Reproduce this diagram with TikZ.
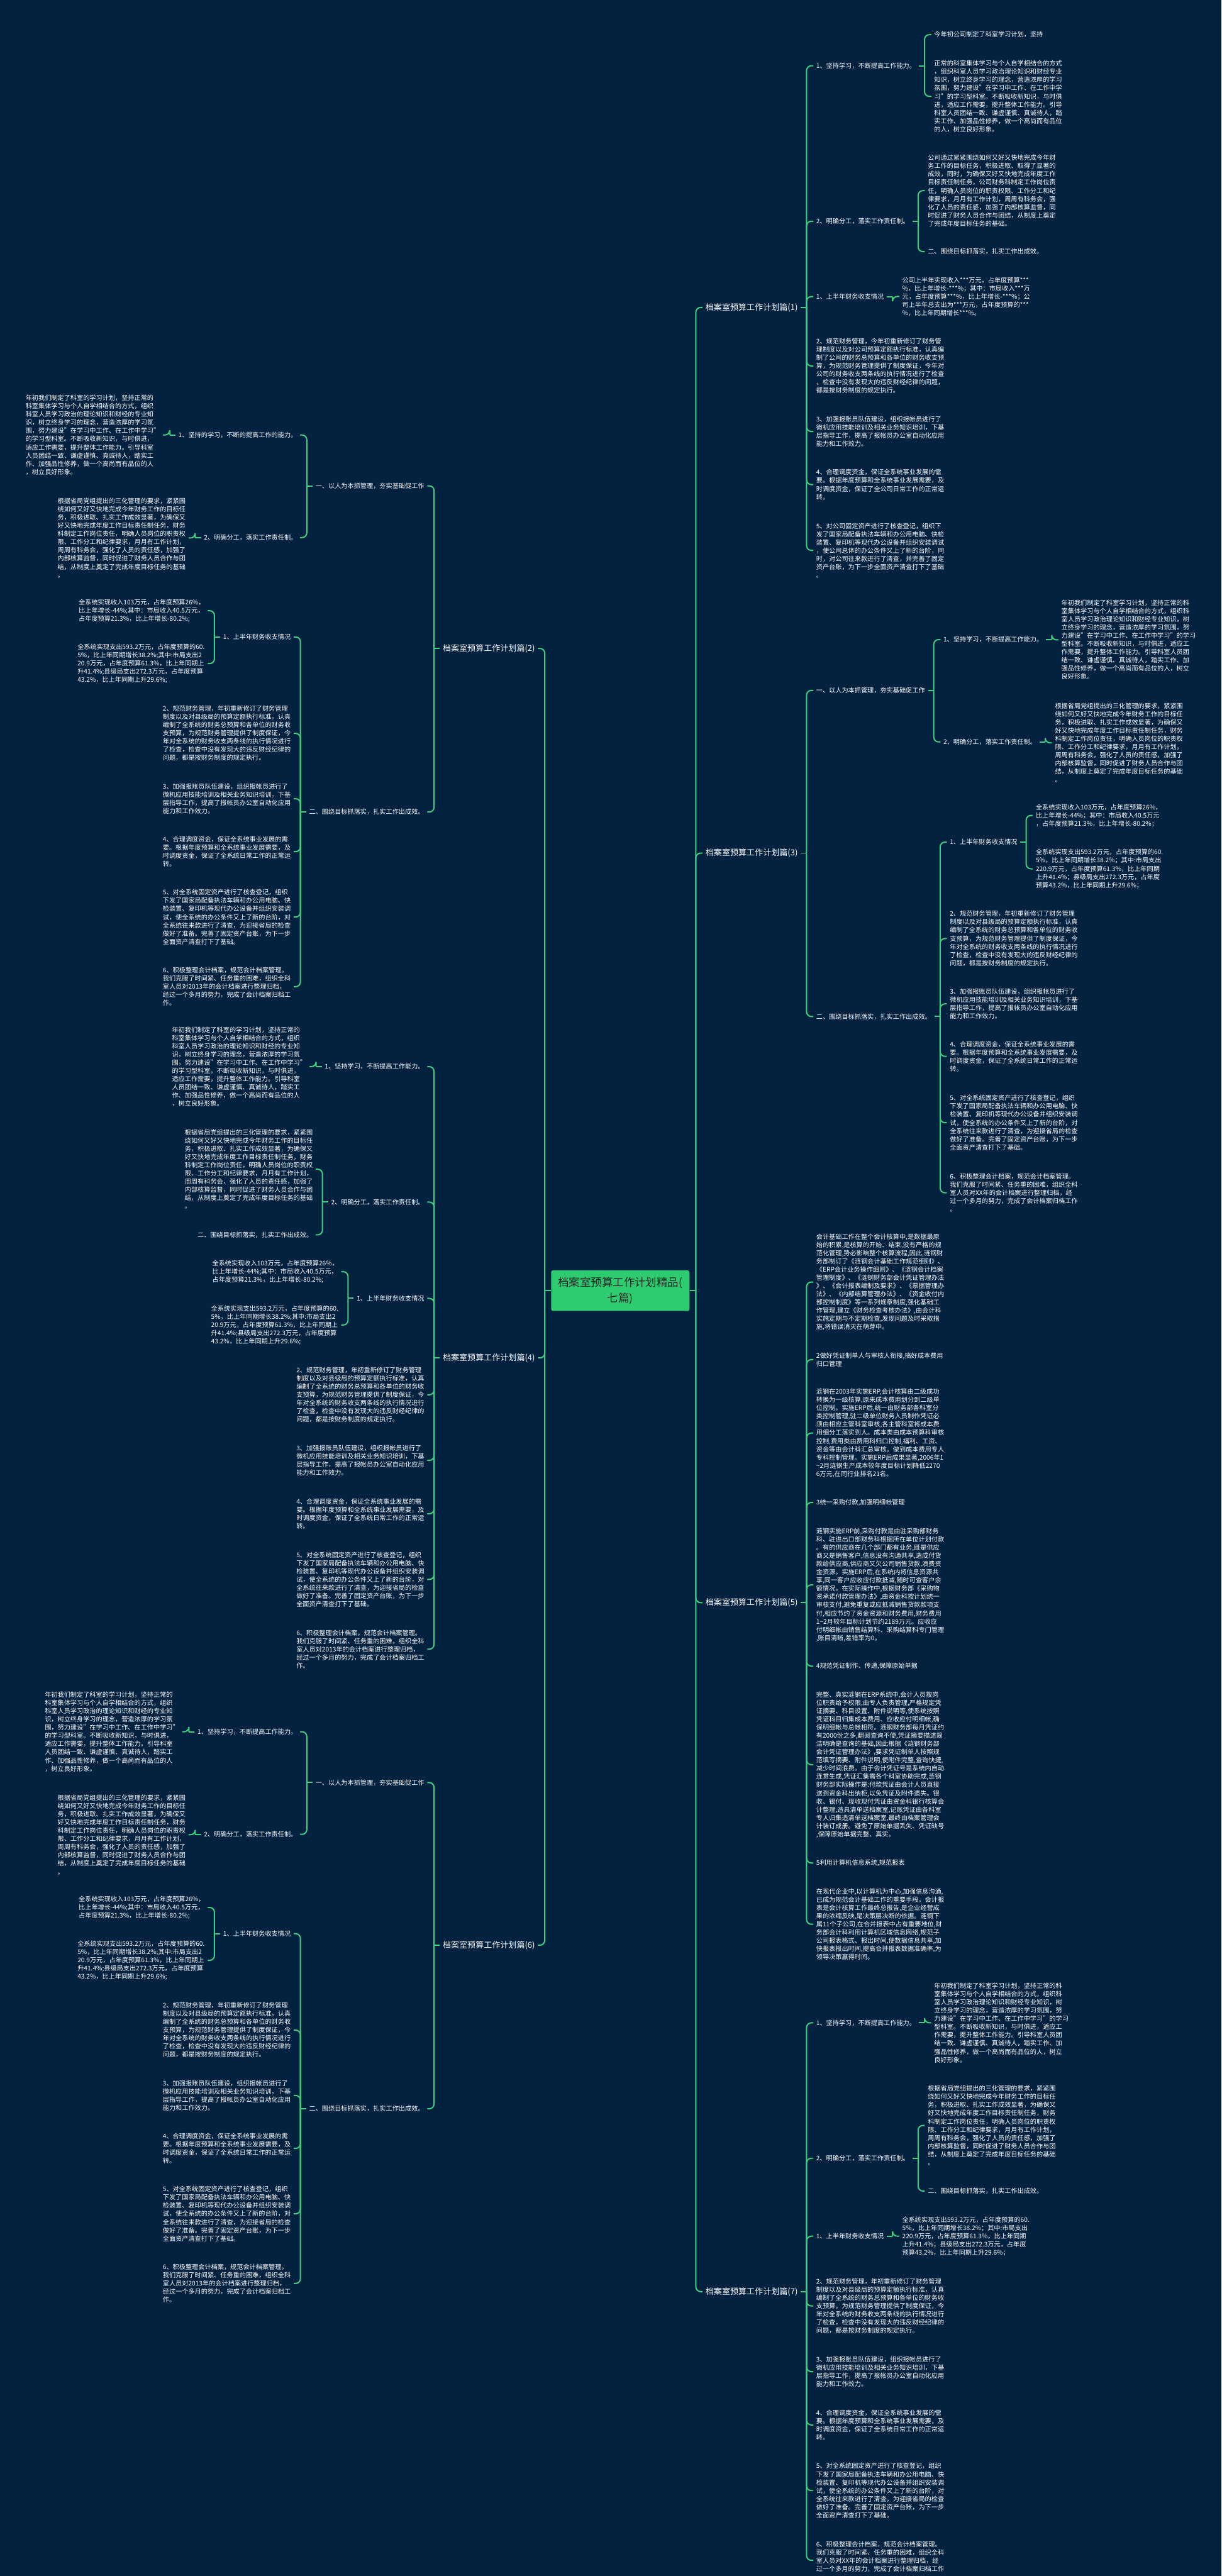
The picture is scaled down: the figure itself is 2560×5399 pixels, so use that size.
\documentclass[tikz,border=0pt]{standalone}
\usepackage{fontspec}
\setmainfont{Noto Sans CJK SC}
\usetikzlibrary{calc}
\definecolor{bg}{HTML}{03223F}
\definecolor{lineg}{HTML}{3FCF7E}
\definecolor{rootg}{HTML}{2ECC71}
\newcommand\leafft{\fontsize{6.7pt}{8.6pt}\selectfont}
\newcommand\labft{\fontsize{8.6pt}{10.5pt}\selectfont}
\newcommand\rootft{\fontsize{11.5pt}{16pt}\selectfont}
\def\gapx{26}\def\stubx{12}
\newcommand\Rn[5][leaf]{%
  \path (#2.east) ++(\gapx,0) coordinate (t-#3);
  \node[#1, anchor=west] (#3) at (t-#3 |- 0,#4) {#5};
  \draw[conn] (#2.east) -- ++(\stubx,0) coordinate (b-#3);
  \draw[conn, rounded corners=5pt] (b-#3) |- (#3.west);
}
\newcommand\Ln[5][leaf]{%
  \path (#2.west) ++(-\gapx,0) coordinate (t-#3);
  \node[#1, anchor=east] (#3) at (t-#3 |- 0,#4) {#5};
  \draw[conn] (#2.west) -- ++(-\stubx,0) coordinate (b-#3);
  \draw[conn, rounded corners=5pt] (b-#3) |- (#3.east);
}
\newcommand\TStudyR{年初我们制定了科室学习计划，坚持正常的科\\室集体学习与个人自学相结合的方式，组织科\\室人员学习政治理论知识和财经专业知识，树\\立终身学习的理念，营造浓厚的学习氛围，努\\力建设"在学习中工作、在工作中学习"的学习\\型科室。不断吸收新知识，与时俱进，适应工\\作需要，提升整体工作能力。引导科室人员团\\结一致、谦虚谨慎、真诚待人，踏实工作、加\\强品性修养，做一个高尚而有品位的人，树立\\良好形象。}
\newcommand\TStudyL{年初我们制定了科室的学习计划，坚持正常的\\科室集体学习与个人自学相结合的方式，组织\\科室人员学习政治的理论知识和财经的专业知\\识，树立终身学习的理念，营造浓厚的学习氛\\围，努力建设"在学习中工作、在工作中学习"\\的学习型科室。不断吸收新知识，与时俱进，\\适应工作需要，提升整体工作能力。引导科室\\人员团结一致、谦虚谨慎、真诚待人，踏实工\\作、加强品性修养，做一个高尚而有品位的人\\，树立良好形象。}
\newcommand\TDuty{根据省局党组提出的三化管理的要求，紧紧围\\绕如何又好又快地完成今年财务工作的目标任\\务，积极进取、扎实工作成效显著，为确保又\\好又快地完成年度工作目标责任制任务，财务\\科制定工作岗位责任，明确人员岗位的职责权\\限、工作分工和纪律要求，月月有工作计划，\\周周有科务会，强化了人员的责任感，加强了\\内部核算监督，同时促进了财务人员合作与团\\结，从制度上奠定了完成年度目标任务的基础\\。}
\newcommand\TIncL{全系统实现收入103万元，占年度预算26\%，\\比上年增长-44\%;其中：市局收入40.5万元，\\占年度预算21.3\%，比上年增长-80.2\%;}
\newcommand\TExpL{全系统实现支出593.2万元，占年度预算的60.\\5\%，比上年同期增长38.2\%;其中:市局支出2\\20.9万元，占年度预算61.3\%，比上年同期上\\升41.4\%;县级局支出272.3万元，占年度预算\\43.2\%，比上年同期上升29.6\%;}
\newcommand\TIncR{全系统实现收入103万元，占年度预算26\%，\\比上年增长-44\%；其中：市局收入40.5万元\\，占年度预算21.3\%，比上年增长-80.2\%；}
\newcommand\TExpR{全系统实现支出593.2万元，占年度预算的60.\\5\%，比上年同期增长38.2\%；其中:市局支出\\220.9万元，占年度预算61.3\%，比上年同期\\上升41.4\%；县级局支出272.3万元，占年度\\预算43.2\%，比上年同期上升29.6\%；}
\newcommand\TFinTwo{2、规范财务管理，年初重新修订了财务管理\\制度以及对县级局的预算定额执行标准，认真\\编制了全系统的财务总预算和各单位的财务收\\支预算，为规范财务管理提供了制度保证，今\\年对全系统的财务收支两条线的执行情况进行\\了检查，检查中没有发现大的违反财经纪律的\\问题，都是按财务制度的规定执行。}
\newcommand\TFinThree{3、加强报账员队伍建设，组织报帐员进行了\\微机应用技能培训及相关业务知识培训，下基\\层指导工作，提高了报帐员办公室自动化应用\\能力和工作效力。}
\newcommand\TFinFour{4、合理调度资金，保证全系统事业发展的需\\要。根据年度预算和全系统事业发展需要，及\\时调度资金，保证了全系统日常工作的正常运\\转。}
\newcommand\TFinFive{5、对全系统固定资产进行了核查登记，组织\\下发了国家局配备执法车辆和办公用电脑、快\\检装置、复印机等现代办公设备并组织安装调\\试，使全系统的办公条件又上了新的台阶，对\\全系统往来款进行了清查，为迎接省局的检查\\做好了准备。完善了固定资产台账，为下一步\\全面资产清查打下了基础。}
\newcommand\TFinSixA{6、积极整理会计档案，规范会计档案管理。\\我们克服了时间紧、任务重的困难，组织全科\\室人员对2013年的会计档案进行整理归档，\\经过一个多月的努力，完成了会计档案归档工\\作。}
\newcommand\TFinSixB{6、积极整理会计档案，规范会计档案管理。\\我们克服了时间紧、任务重的困难，组织全科\\室人员对XX年的会计档案进行整理归档，经\\过一个多月的努力，完成了会计档案归档工作\\。}
\newcommand\TIncA{公司上半年实现收入***万元，占年度预算***\\\%，比上年增长-***\%；其中：市局收入***万\\元，占年度预算***\%，比上年增长-***\%；公\\司上半年总支出为***万元，占年度预算的***\\\%，比上年同期增长***\%。}
\begin{document}
\begin{tikzpicture}[x=0.5pt,y=-0.5pt,
  leaf/.style={align=left, text=white, font=\leafft, inner xsep=3pt, inner ysep=0pt},
  lab/.style={text=white, font=\labft, inner xsep=3pt, inner ysep=1pt},
  conn/.style={draw=lineg, line width=1.3pt},
  rootn/.style={fill=rootg, text=black!85, font=\rootft, align=center, rounded corners=2pt, minimum width=145pt, minimum height=42.5pt, inner sep=2pt}]
\useasboundingbox (0,0) rectangle (2560,5399);
\fill[bg] (0,0) rectangle (2560,5399);
\node[rootn] (root) at (1300,2705) {档案室预算工作计划精品(\\七篇)};
% ---------- level 1
\def\gapx{27}\def\stubx{13}
\Rn[lab]{root}{a1}{644.4}{档案室预算工作计划篇(1)}
\Ln[lab]{root}{a2}{1359}{档案室预算工作计划篇(2)}
\Rn[lab]{root}{a3}{1788}{档案室预算工作计划篇(3)}
\Ln[lab]{root}{a4}{2846}{档案室预算工作计划篇(4)}
\Rn[lab]{root}{a5}{3359}{档案室预算工作计划篇(5)}
\Ln[lab]{root}{a6}{4076.8}{档案室预算工作计划篇(6)}
\Rn[lab]{root}{a7}{4802.9}{档案室预算工作计划篇(7)}
\def\gapx{26}\def\stubx{12}
% ---------- branch 1
\Rn{a1}{a1s}{137.8}{1、坚持学习，不断提高工作能力。}
\Rn{a1s}{a1s1}{72.7}{今年初公司制定了科室学习计划，坚持}
\Rn{a1s}{a1s2}{202}{正常的科室集体学习与个人自学相结合的方式\\，组织科室人员学习政治理论知识和财经专业\\知识，树立终身学习的理念，营造浓厚的学习\\氛围，努力建设"在学习中工作、在工作中学\\习"的学习型科室。不断吸收新知识，与时俱\\进，适应工作需要，提升整体工作能力。引导\\科室人员团结一致、谦虚谨慎、真诚待人，踏\\实工作、加强品性修养，做一个高尚而有品位\\的人，树立良好形象。}
\Rn{a1}{a1d}{463.7}{2、明确分工，落实工作责任制。}
\Rn{a1d}{a1d1}{399.6}{公司通过紧紧围绕如何又好又快地完成今年财\\务工作的目标任务，积极进取、取得了显著的\\成效，同时，为确保又好又快地完成年度工作\\目标责任制任务，公司财务科制定工作岗位责\\任，明确人员岗位的职责权限、工作分工和纪\\律要求，月月有工作计划，周周有科务会，强\\化了人员的责任感，加强了内部核算监督，同\\时促进了财务人员合作与团结，从制度上奠定\\了完成年度目标任务的基础。}
\Rn{a1d}{a1d2}{527.5}{二、围绕目标抓落实，扎实工作出成效。}
\Rn{a1}{a1i}{621.6}{1、上半年财务收支情况}
\Rn{a1i}{a1i1}{621.4}{\TIncA}
\Rn{a1}{a1f2}{767}{2、规范财务管理，今年初重新修订了财务管\\理制度以及对公司预算定额执行标准，认真编\\制了公司的财务总预算和各单位的财务收支预\\算，为规范财务管理提供了制度保证，今年对\\公司的财务收支两条线的执行情况进行了检查\\，检查中没有发现大的违反财经纪律的问题，\\都是按财务制度的规定执行。}
\Rn{a1}{a1f3}{904.4}{\TFinThree}
\Rn{a1}{a1f4}{1015.7}{4、合理调度资金，保证全系统事业发展的需\\要。根据年度预算和全系统事业发展需要，及\\时调度资金，保证了全公司日常工作的正常运\\转。}
\Rn{a1}{a1f5}{1153.6}{5、对公司固定资产进行了核查登记，组织下\\发了国家局配备执法车辆和办公用电脑、快检\\装置、复印机等现代办公设备并组织安装调试\\，使公司总体的办公条件又上了新的台阶，同\\时，对公司往来款进行了清查，并完善了固定\\资产台账，为下一步全面资产清查打下了基础\\。}
% ---------- branch 2
\Ln{a2}{a2a}{1018.3}{一、以人为本抓管理，夯实基础促工作}
\Ln{a2a}{a2a1}{911.7}{1、坚持的学习，不断的提高工作的能力。}
\Ln{a2a1}{a2a1x}{911.7}{\TStudyL}
\Ln{a2a}{a2a2}{1126.7}{2、明确分工，落实工作责任制。}
\Ln{a2a2}{a2a2x}{1127.5}{\TDuty}
\Ln{a2}{a2b}{1701.9}{二、围绕目标抓落实，扎实工作出成效。}
\Ln{a2b}{a2b1}{1335}{1、上半年财务收支情况}
\Ln{a2b1}{a2b1x}{1280}{\TIncL}
\Ln{a2b1}{a2b1y}{1390.8}{\TExpL}
\Ln{a2b}{a2b2}{1537}{\TFinTwo}
\Ln{a2b}{a2b3}{1674}{\TFinThree}
\Ln{a2b}{a2b4}{1785}{\TFinFour}
\Ln{a2b}{a2b5}{1922}{\TFinFive}
\Ln{a2b}{a2b6}{2068}{\TFinSixA}
% ---------- branch 3
\Rn{a3}{a3a}{1447}{一、以人为本抓管理，夯实基础促工作}
\Rn{a3a}{a3a1}{1340.5}{1、坚持学习，不断提高工作能力。}
\Rn{a3a1}{a3a1x}{1341}{\TStudyR}
\Rn{a3a}{a3a2}{1555}{2、明确分工，落实工作责任制。}
\Rn{a3a2}{a3a2x}{1557}{\TDuty}
\Rn{a3}{a3b}{2130.5}{二、围绕目标抓落实，扎实工作出成效。}
\Rn{a3b}{a3b1}{1765}{1、上半年财务收支情况}
\Rn{a3b1}{a3b1x}{1709}{\TIncR}
\Rn{a3b1}{a3b1y}{1821}{\TExpR}
\Rn{a3b}{a3b2}{1967}{\TFinTwo}
\Rn{a3b}{a3b3}{2104}{\TFinThree}
\Rn{a3b}{a3b4}{2214}{\TFinFour}
\Rn{a3b}{a3b5}{2353}{\TFinFive}
\Rn{a3b}{a3b6}{2500}{\TFinSixB}
% ---------- branch 4
\Ln{a4}{a4s}{2235.5}{1、坚持学习，不断提高工作能力。}
\Ln{a4s}{a4sx}{2235.5}{\TStudyL}
\Ln{a4}{a4d}{2519.3}{2、明确分工，落实工作责任制。}
\Ln{a4d}{a4dx}{2450.5}{\TDuty}
\Ln{a4d}{a4dy}{2588.1}{二、围绕目标抓落实，扎实工作出成效。}
\Ln{a4}{a4i}{2721.2}{1、上半年财务收支情况}
\Ln{a4i}{a4ix}{2665.3}{\TIncL}
\Ln{a4i}{a4iy}{2777.1}{\TExpL}
\Ln{a4}{a4f2}{2923.3}{\TFinTwo}
\Ln{a4}{a4f3}{3060.9}{\TFinThree}
\Ln{a4}{a4f4}{3172.7}{\TFinFour}
\Ln{a4}{a4f5}{3310.3}{\TFinFive}
\Ln{a4}{a4f6}{3456.5}{\TFinSixA}
% ---------- branch 5
\Rn{a5}{a5p1}{2687}{会计基础工作在整个会计核算中,是数据最原\\始的积累,是核算的开始、结束,没有严格的规\\范化管理,势必影响整个核算流程,因此,涟钢财\\务部制订了《涟钢会计基础工作规范细则》、\\《ERP会计业务操作细则》、《涟钢会计档案\\管理制度》、《涟钢财务部会计凭证管理办法\\》、《会计报表编制及要求》、《票据管理办\\法》、《内部结算管理办法》、《资金收付内\\部控制制度》等一系列规章制度,强化基础工\\作管理,建立《财务检查考核办法》,由会计科\\实施定期与不定期检查,发现问题及时采取措\\施,将错误消灭在萌芽中。}
\Rn{a5}{a5p2}{2849.5}{2做好凭证制单人与审核人衔接,搞好成本费用\\归口管理}
\Rn{a5}{a5p3}{3003.5}{涟钢在2003年实施ERP,会计核算由二级成功\\转换为一级核算,原来成本费用划分到二级单\\位控制。实施ERP后,统一由财务部各科室分\\类控制管理,驻二级单位财务人员制作凭证必\\须由相应主管科室审核,各主管科室将成本费\\用细分工落实到人。成本类由成本预算科审核\\控制,费用类由费用科归口控制,福利、工资、\\资金等由会计科汇总审核。做到成本费用专人\\专科控制管理。实施ERP后成果显著,2006年1\\\textasciitilde2月涟钢生产成本较年度目标计划降低2270\\6万元,在同行业排名21名。}
\Rn{a5}{a5p4}{3149}{3统一采购付款,加强明细帐管理}
\Rn{a5}{a5p5}{3321.6}{涟钢实施ERP前,采购付款是由驻采购部财务\\科、驻进出口部财务科根据所在单位计划付款\\。有的供应商在几个部门都有业务,既是供应\\商又是销售客户,信息没有沟通共享,造成付货\\款给供应商,供应商又欠公司销售货款,浪费资\\金资源。实施ERP后,在系统内将信息资源共\\享,同一客户应收应付款抵减,随时可查客户余\\额情况。在实际操作中,根据财务部《采购物\\资承诺付款管理办法》,由资金科按计划统一\\审核支付,避免重复或应抵减销售货款款项支\\付,相应节约了资金资源和财务费用,财务费用\\1\textasciitilde2月较年目标计划节约2189万元。应收应\\付明细帐由销售结算科、采购结算科专门管理\\,账目清晰,差错率为0。}
\Rn{a5}{a5p6}{3492}{4规范凭证制作、传递,保障原始单据}
\Rn{a5}{a5p7}{3698.6}{完整、真实涟钢在ERP系统中,会计人员按岗\\位职责给予权限,由专人负责管理,严格规定凭\\证摘要、科目设置、附件说明等,使系统按照\\凭证科目归集成本费用、应收应付明细帐,确\\保明细帐与总帐相符。涟钢财务部每月凭证约\\有2000份之多,翻阅查询不便,凭证摘要描述简\\洁明确是查询的基础,因此根据《涟钢财务部\\会计凭证管理办法》,要求凭证制单人按照规\\范填写摘要、附件说明,使附件完整,查询快捷,\\减少时间浪费。由于会计凭证号是系统内自动\\连贯生成,凭证汇集需各个科室协助完成,涟钢\\财务部实际操作是:付款凭证由会计人员直接\\送到资金科出纳柜,以免凭证及附件遗失。银\\收、银付、现收现付凭证由资金科银行核算会\\计整理,造具清单送档案室,记账凭证由各科室\\专人归集造清单送档案室,最终由档案管理会\\计装订成册。避免了原始单据丢失、凭证缺号\\,保障原始单据完整、真实。}
\Rn{a5}{a5p8}{3904.6}{5利用计算机信息系统,规范报表}
\Rn{a5}{a5p9}{4033}{在现代企业中,以计算机为中心,加强信息沟通,\\已成为规范会计基础工作的重要手段。会计报\\表是会计核算工作最终总报告,是企业经营成\\果的浓缩反映,是决策层决断的依据。涟钢下\\属11个子公司,在合并报表中占有重要地位,财\\务部会计科利用计算机区域信息网络,规范子\\公司报表格式、报出时间,使数据信息共享,加\\快报表报出时间,提高合并报表数据准确率,为\\领导决策赢得时间。}
% ---------- branch 6
\Ln{a6}{a6a}{3736.1}{一、以人为本抓管理，夯实基础促工作}
\Ln{a6a}{a6a1}{3629.5}{1、坚持学习，不断提高工作能力。}
\Ln{a6a1}{a6a1x}{3629.5}{\TStudyL}
\Ln{a6a}{a6a2}{3844.5}{2、明确分工，落实工作责任制。}
\Ln{a6a2}{a6a2x}{3845.3}{\TDuty}
\Ln{a6}{a6b}{4419.7}{二、围绕目标抓落实，扎实工作出成效。}
\Ln{a6b}{a6b1}{4052.8}{1、上半年财务收支情况}
\Ln{a6b1}{a6b1x}{3997.8}{\TIncL}
\Ln{a6b1}{a6b1y}{4108.6}{\TExpL}
\Ln{a6b}{a6b2}{4254.8}{\TFinTwo}
\Ln{a6b}{a6b3}{4391.8}{\TFinThree}
\Ln{a6b}{a6b4}{4502.8}{\TFinFour}
\Ln{a6b}{a6b5}{4639.8}{\TFinFive}
\Ln{a6b}{a6b6}{4785.8}{\TFinSixA}
% ---------- branch 7
\Rn{a7}{a7s}{4239.6}{1、坚持学习，不断提高工作能力。}
\Rn{a7s}{a7sx}{4239.6}{\TStudyR}
\Rn{a7}{a7d}{4523.4}{2、明确分工，落实工作责任制。}
\Rn{a7d}{a7dx}{4454.6}{\TDuty}
\Rn{a7d}{a7dy}{4592.2}{二、围绕目标抓落实，扎实工作出成效。}
\Rn{a7}{a7i}{4686.8}{1、上半年财务收支情况}
\Rn{a7i}{a7ix}{4686.8}{\TExpR}
\Rn{a7}{a7f2}{4833}{\TFinTwo}
\Rn{a7}{a7f3}{4970.6}{\TFinThree}
\Rn{a7}{a7f4}{5082.4}{\TFinFour}
\Rn{a7}{a7f5}{5220}{\TFinFive}
\Rn{a7}{a7f6}{5366.2}{\TFinSixB}
\end{tikzpicture}
\end{document}
